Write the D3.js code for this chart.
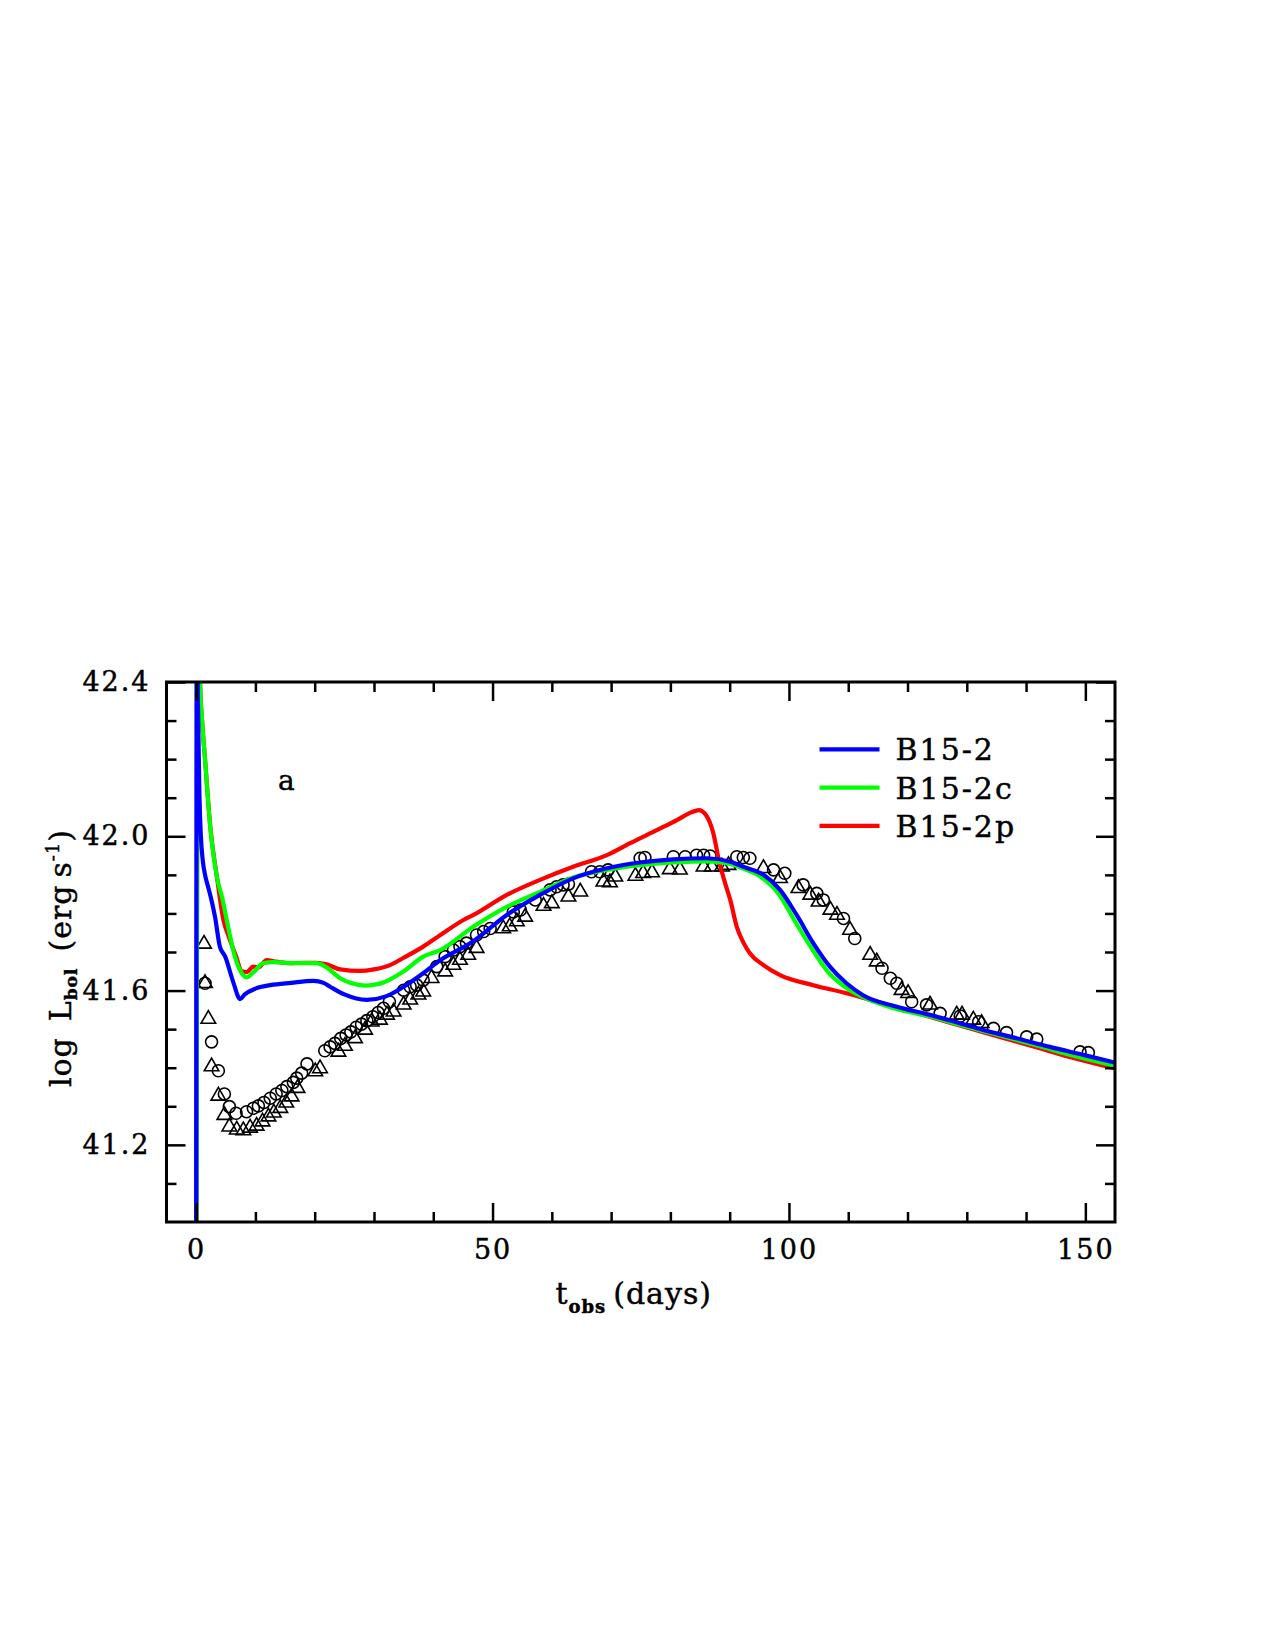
<!DOCTYPE html>
<html>
<head>
<meta charset="utf-8">
<script src="https://cdn.jsdelivr.net/npm/d3@7"></script>
<style>
  body { margin: 0; background: #fff; }
  svg text { font-family: "DejaVu Serif", serif; fill: #000; stroke: #000; stroke-width: 0.45px; }
</style>
</head>
<body>
<div id="chart"></div>
<script>
// model light curves (days, log L)
var b152Days = [0.0, 0.1, 0.3, 0.55, 0.8, 1.1, 1.5, 2.0, 2.5, 3.2, 4.0, 4.9, 6.3, 7.4, 8.2, 10, 12.5, 16, 19.8, 21.5, 22.6, 25, 28.8, 32, 35, 38.3, 41.2, 46.5, 52.4, 58, 63.6, 69.3, 74.9, 80.5, 86.1, 90.1, 92.5, 95.7, 98.5, 101.3, 104.1, 106.9, 109.7, 112.5, 118.2, 123.8, 128.9, 132.8, 138, 144, 150, 155];
var b152Logl = [40.9, 42.6, 42.35, 42.11, 42.0, 41.94, 41.90, 41.87, 41.84, 41.79, 41.714, 41.688, 41.62, 41.578, 41.59, 41.605, 41.614, 41.62, 41.625, 41.62, 41.61, 41.59, 41.576, 41.585, 41.61, 41.645, 41.679, 41.725, 41.796, 41.848, 41.891, 41.917, 41.932, 41.94, 41.943, 41.934, 41.92, 41.9, 41.861, 41.796, 41.723, 41.662, 41.619, 41.588, 41.558, 41.537, 41.515, 41.498, 41.478, 41.454, 41.432, 41.413];

var b152cDays = [0.05, 0.35, 0.66, 1.0, 1.5, 2.35, 3.5, 4.4, 5.2, 6.5, 7.5, 8.5, 9.5, 11.3, 13, 15, 17.5, 20.3, 22, 24.3, 26, 28.5, 31, 35, 38.3, 41.2, 46.8, 52.4, 58, 63.6, 69.3, 74.9, 80.5, 86.1, 89.5, 92.5, 95.5, 98.3, 101, 103.8, 106.5, 109.4, 112.5, 118, 124, 129, 135, 142, 148, 155];
var b152cLogl = [40.9, 42.8, 42.4, 42.3, 42.2, 42.03, 41.895, 41.84, 41.78, 41.69, 41.65, 41.634, 41.645, 41.671, 41.674, 41.672, 41.671, 41.671, 41.66, 41.632, 41.62, 41.613, 41.618, 41.65, 41.688, 41.705, 41.766, 41.817, 41.856, 41.893, 41.913, 41.925, 41.932, 41.935, 41.93, 41.915, 41.892, 41.85, 41.78, 41.71, 41.65, 41.61, 41.583, 41.553, 41.532, 41.51, 41.486, 41.457, 41.431, 41.405];

var b152pDays = [0.05, 0.35, 0.66, 1.0, 1.5, 2.35, 3.5, 4.6, 5.5, 6.7, 7.7, 8.5, 9.65, 10.5, 11.9, 13.5, 15.8, 18, 20.3, 22, 24.3, 27.6, 30, 32.7, 35, 38.3, 41.2, 45.1, 46.8, 52.4, 58, 63.6, 69.3, 73.2, 77.7, 81.1, 83.5, 84.8, 86, 87.2, 88.3, 89.2, 90.1, 91.2, 92.3, 93.4, 95.7, 98.5, 104.1, 109.7, 113.7, 118, 124, 130, 136, 142, 148, 155];
var b152pLogl = [40.9, 42.8, 42.4, 42.3, 42.2, 42.03, 41.895, 41.783, 41.74, 41.69, 41.65, 41.648, 41.662, 41.66, 41.679, 41.675, 41.671, 41.672, 41.672, 41.668, 41.655, 41.651, 41.655, 41.666, 41.685, 41.714, 41.744, 41.783, 41.796, 41.848, 41.887, 41.921, 41.951, 41.982, 42.016, 42.042, 42.062, 42.068, 42.055, 42.01, 41.93, 41.88, 41.835, 41.765, 41.725, 41.697, 41.666, 41.64, 41.614, 41.593, 41.576, 41.557, 41.531, 41.504, 41.478, 41.452, 41.425, 41.398];

// observed points
var circleDays = [1.5, 2.6, 3.75, 4.76, 5.6, 6.73, 8.5, 9.65, 10.5, 11.45, 12.5, 13.5, 14.46, 15.3, 16.4, 16.97, 17.8, 18.7, 21.7, 22.6, 23.4, 24.4, 25.3, 26.1, 27, 27.9, 28.8, 29.8, 30.7, 31.6, 32.6, 35, 36.1, 37.2, 38.3, 40.6, 42, 43.4, 44.5, 45.6, 47.3, 48.5, 49.6, 53.5, 54.7, 57.2, 59.7, 60.8, 61.9, 62.8, 66.7, 68.1, 69.5, 74.9, 75.7, 80.5, 82.5, 84.4, 85.6, 86.7, 91.2, 92.3, 93.4, 97.4, 99.3, 102.4, 104.7, 105.8, 109.2, 111.1, 115.7, 117.1, 118.2, 120.7, 123.2, 125.5, 128.9, 132, 134.5, 136.7, 140.1, 141.8, 149.1, 150.5];
var circleLogl = [41.619, 41.467, 41.392, 41.332, 41.299, 41.282, 41.286, 41.295, 41.301, 41.31, 41.321, 41.332, 41.341, 41.351, 41.362, 41.373, 41.386, 41.41, 41.444, 41.454, 41.463, 41.476, 41.485, 41.493, 41.505, 41.513, 41.522, 41.532, 41.543, 41.554, 41.571, 41.601, 41.61, 41.614, 41.627, 41.662, 41.688, 41.705, 41.714, 41.723, 41.744, 41.753, 41.761, 41.804, 41.809, 41.835, 41.861, 41.869, 41.874, 41.876, 41.908, 41.908, 41.913, 41.943, 41.945, 41.947, 41.947, 41.951, 41.951, 41.949, 41.947, 41.945, 41.943, 41.913, 41.904, 41.874, 41.852, 41.835, 41.787, 41.735, 41.658, 41.632, 41.619, 41.571, 41.563, 41.541, 41.534, 41.519, 41.502, 41.491, 41.48, 41.474, 41.441, 41.439];

var triangleDays = [1.33, 1.5, 2.06, 2.6, 3.75, 4.76, 5.6, 6.85, 7.96, 9.1, 10.2, 11.2, 12.2, 13.1, 14.2, 15.2, 16.1, 17.1, 20.1, 20.9, 24, 25.1, 26.8, 28.5, 29.6, 31, 32.2, 33.3, 35, 36.1, 37.5, 38.3, 39.7, 42, 43.4, 44.5, 45.9, 47.3, 51.8, 52.9, 54.1, 55.5, 58.6, 60, 62.8, 64.8, 68.7, 69.8, 70.7, 74.1, 75.4, 76.9, 79.9, 81.6, 85.6, 87, 88.7, 89.8, 95.7, 98.5, 101.6, 103.6, 105, 107, 108.1, 110.3, 113.7, 114.8, 119, 120.1, 123.8, 128.3, 129.2, 131.1, 132.5];
var triangleLogl = [41.721, 41.619, 41.526, 41.403, 41.327, 41.277, 41.247, 41.239, 41.237, 41.244, 41.249, 41.26, 41.273, 41.283, 41.295, 41.309, 41.325, 41.347, 41.39, 41.398, 41.441, 41.456, 41.476, 41.498, 41.519, 41.524, 41.537, 41.545, 41.563, 41.576, 41.589, 41.597, 41.632, 41.649, 41.666, 41.679, 41.692, 41.71, 41.761, 41.766, 41.779, 41.791, 41.819, 41.826, 41.843, 41.856, 41.882, 41.88, 41.895, 41.897, 41.904, 41.906, 41.914, 41.913, 41.921, 41.921, 41.921, 41.925, 41.917, 41.891, 41.865, 41.848, 41.83, 41.809, 41.796, 41.757, 41.692, 41.675, 41.601, 41.593, 41.563, 41.537, 41.537, 41.524, 41.515];

var seriesNames = ["B15-2", "B15-2c", "B15-2p"];
var seriesColors = ["#0000ff", "#00ff00", "#ff0000"];
var xMajorTicks = [0, 50, 100, 150];
var xMinorTicks = [10, 20, 30, 40, 60, 70, 80, 90, 110, 120, 130, 140];
var yMajorTicks = [41.2, 41.6, 42.0, 42.4];
var yMinorTicks = [41.1, 41.3, 41.4, 41.5, 41.7, 41.8, 41.9, 42.1, 42.2, 42.3];

function LightCurvePlot(
    elemId
    , pageWidth, pageHeight
    , left, top, width, height
    , domainXMin, domainXMax, domainYMin, domainYMax
) {
    this._width = width;
    this._height = height;
    this._clipId = "clip" + elemId;

    this._xscale = d3.scaleLinear()
        .domain([domainXMin, domainXMax])
        .range([0, width]);
    this._yscale = d3.scaleLinear()
        .domain([domainYMin, domainYMax])
        .range([height, 0]);

    this._svg = d3.select("#" + elemId)
        .append("svg")
        .attr("width", pageWidth)
        .attr("height", pageHeight);

    this._svg.append("defs")
        .append("clipPath")
        .attr("id", this._clipId)
        .append("rect")
        .attr("width", width)
        .attr("height", height);

    this._g = this._svg.append("g")
        .attr("transform", "translate(" + left + "," + top + ")");
}

LightCurvePlot.prototype.addAxis = function (axis, dx, dy) {
    var g = this._g.append("g")
        .attr("transform", "translate(" + dx + "," + dy + ")")
        .call(axis);
    g.select(".domain").remove();
    g.selectAll("line").attr("stroke", "#000").attr("stroke-width", 2.5);
    g.selectAll("text")
        .attr("font-family", "DejaVu Serif")
        .attr("font-size", 27)
        .attr("letter-spacing", 2)
        .attr("fill", "#000");
    return g;
}

LightCurvePlot.prototype.drawAxes = function () {
    var x = this._xscale, y = this._yscale, w = this._width, h = this._height;
    var noLabel = function () { return ""; };

    this.addAxis(d3.axisBottom(x).tickValues(xMajorTicks).tickSizeInner(-19).tickSizeOuter(0)
        .tickPadding(18).tickFormat(d3.format("d")), 0, h);
    this.addAxis(d3.axisBottom(x).tickValues(xMinorTicks).tickSizeInner(-10).tickSizeOuter(0)
        .tickFormat(noLabel), 0, h);
    this.addAxis(d3.axisTop(x).tickValues(xMajorTicks).tickSizeInner(-19).tickSizeOuter(0)
        .tickFormat(noLabel), 0, 0);
    this.addAxis(d3.axisTop(x).tickValues(xMinorTicks).tickSizeInner(-10).tickSizeOuter(0)
        .tickFormat(noLabel), 0, 0);

    this.addAxis(d3.axisLeft(y).tickValues(yMajorTicks).tickSizeInner(-19).tickSizeOuter(0)
        .tickPadding(16).tickFormat(d3.format(".1f")), 0, 0);
    this.addAxis(d3.axisLeft(y).tickValues(yMinorTicks).tickSizeInner(-10).tickSizeOuter(0)
        .tickFormat(noLabel), 0, 0);
    this.addAxis(d3.axisRight(y).tickValues(yMajorTicks).tickSizeInner(-19).tickSizeOuter(0)
        .tickFormat(noLabel), w, 0);
    this.addAxis(d3.axisRight(y).tickValues(yMinorTicks).tickSizeInner(-10).tickSizeOuter(0)
        .tickFormat(noLabel), w, 0);

    this._g.append("rect")
        .attr("width", w)
        .attr("height", h)
        .attr("fill", "none")
        .attr("stroke", "#000")
        .attr("stroke-width", 3);
}

LightCurvePlot.prototype.drawLabels = function () {
    var xl = this._g.append("text")
        .attr("x", this._width / 2 - 7)
        .attr("y", this._height + 82)
        .attr("text-anchor", "middle")
        .attr("font-size", 30)
        .attr("letter-spacing", 1);
    xl.append("tspan").text("t");
    xl.append("tspan").attr("font-size", 18).attr("font-weight", "bold").attr("dy", 9).text("obs");
    xl.append("tspan").attr("dy", -9).text("\u2009(days)");

    var yl = this._g.append("text")
        .attr("transform", "translate(-96," + (this._height / 2 + 6) + ") rotate(-90)")
        .attr("text-anchor", "middle")
        .attr("font-size", 30)
        .attr("letter-spacing", 1);
    yl.append("tspan").text("log\u2002L");
    yl.append("tspan").attr("font-size", 17).attr("font-weight", "bold").attr("dy", 6).text("bol");
    yl.append("tspan").attr("dy", -6).text("\u2002(erg\u2009s");
    yl.append("tspan").attr("font-size", 18).attr("dy", -12).text("-1");
    yl.append("tspan").attr("dy", 12).text(")");

    this._g.append("text")
        .attr("x", this._xscale(15.2))
        .attr("y", this._yscale(42.1) - 8)
        .attr("text-anchor", "middle")
        .attr("font-size", 28)
        .attr("stroke-width", 0.9)
        .text("a");
}

LightCurvePlot.prototype.drawPoints = function (days, logl, kind) {
    var x = this._xscale, y = this._yscale;
    var pts = days.map(function (d, i) { return [d, logl[i]]; });
    var layer = this._g.append("g")
        .attr("clip-path", "url(#" + this._clipId + ")");
    if (kind === "circle") {
        layer.selectAll("circle")
            .data(pts)
            .enter()
            .append("circle")
            .attr("cx", function (p) { return x(p[0]); })
            .attr("cy", function (p) { return y(p[1]); })
            .attr("r", 6)
            .attr("fill", "none")
            .attr("stroke", "#000")
            .attr("stroke-width", 1.6);
    } else {
        var tri = d3.symbol().type(d3.symbolTriangle).size(92);
        layer.selectAll("path")
            .data(pts)
            .enter()
            .append("path")
            .attr("d", tri)
            .attr("transform", function (p) { return "translate(" + x(p[0]) + "," + y(p[1]) + ")"; })
            .attr("fill", "none")
            .attr("stroke", "#000")
            .attr("stroke-width", 1.6);
    }
}

LightCurvePlot.prototype.drawCurve = function (days, logl, color) {
    var x = this._xscale, y = this._yscale;
    var line = d3.line()
        .x(function (p) { return x(p[0]); })
        .y(function (p) { return y(p[1]); })
        .curve(d3.curveMonotoneX);
    this._g.append("path")
        .datum(days.map(function (d, i) { return [d, logl[i]]; }))
        .attr("clip-path", "url(#" + this._clipId + ")")
        .attr("d", line)
        .attr("fill", "none")
        .attr("stroke", color)
        .attr("stroke-width", 4.2)
        .attr("stroke-linejoin", "round");
}

LightCurvePlot.prototype.drawLegend = function (names, colors, x0, y0, step) {
    var g = this._g.append("g")
        .attr("transform", "translate(" + x0 + "," + y0 + ")");
    names.forEach(function (name, i) {
        g.append("line")
            .attr("x1", 0).attr("x2", 60)
            .attr("y1", i * step).attr("y2", i * step)
            .attr("stroke", colors[i])
            .attr("stroke-width", 4.2);
        g.append("text")
            .attr("x", 76)
            .attr("y", i * step + 11)
            .attr("font-size", 30)
            .attr("letter-spacing", 2)
            .text(name);
    });
}

var plot = new LightCurvePlot("chart", 1275, 1650, 166.5, 682, 948.5, 540, -5, 155, 41.0, 42.4);
plot.drawPoints(circleDays, circleLogl, "circle");
plot.drawPoints(triangleDays, triangleLogl, "triangle");
plot.drawCurve(b152pDays, b152pLogl, seriesColors[2]);
plot.drawCurve(b152cDays, b152cLogl, seriesColors[1]);
plot.drawCurve(b152Days, b152Logl, seriesColors[0]);
plot.drawAxes();
plot.drawLabels();
plot.drawLegend(seriesNames, seriesColors, 653, 67.3, 38.3);
</script>
</body>
</html>
